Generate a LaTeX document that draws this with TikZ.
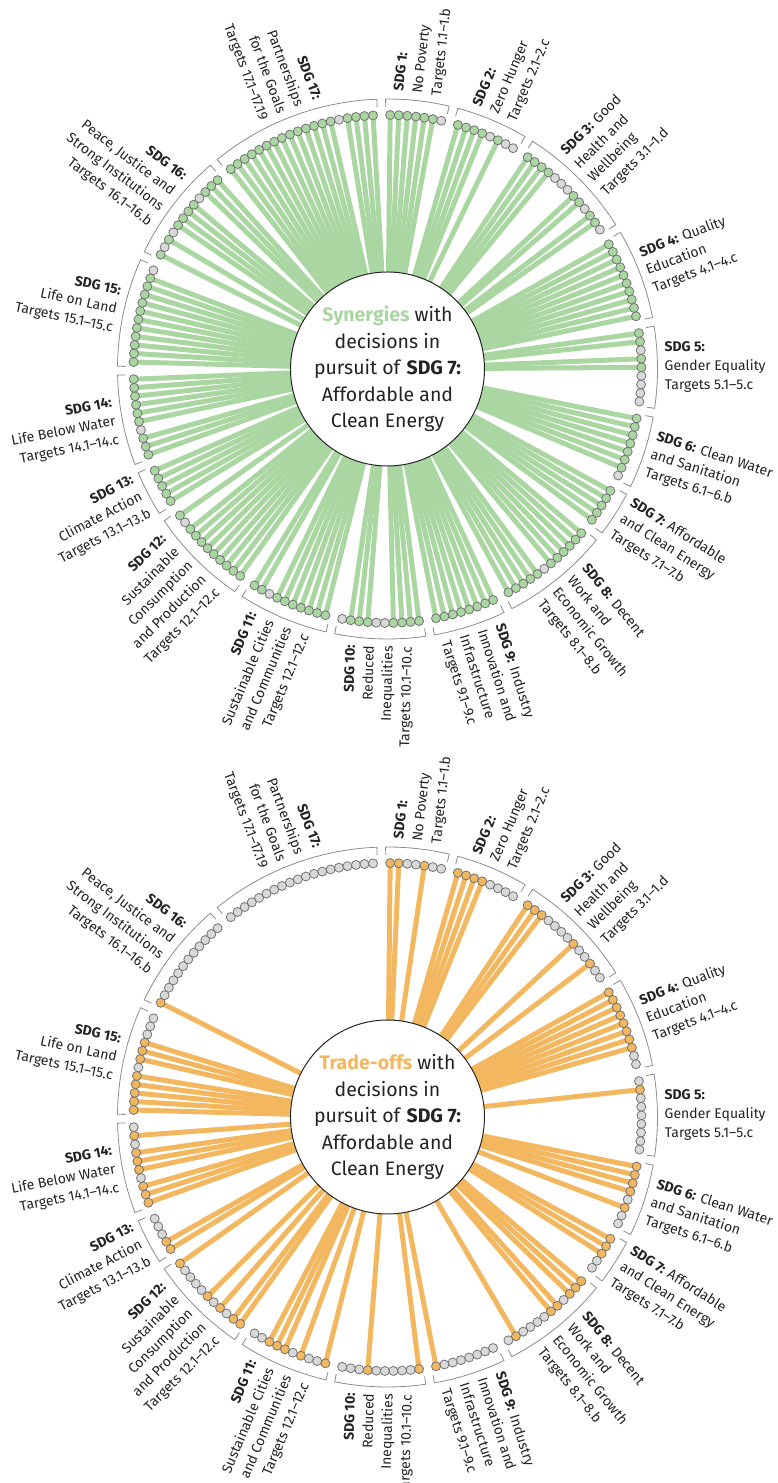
\documentclass[tikz,border=0pt]{standalone}
\usepackage{fontspec}
\setmainfont{Fira Sans}
\usetikzlibrary{backgrounds}

\definecolor{syngreen}{RGB}{170,214,162}
\definecolor{tradeorange}{RGB}{243,183,95}
\definecolor{dotgrey}{RGB}{217,217,217}
\definecolor{brkgrey}{RGB}{140,140,140}
\definecolor{txtgrey}{RGB}{35,35,35}

\newcount\slotno

\tikzset{
  target/.style={circle, draw=black!55, line width=0.8pt, minimum size=9pt, inner sep=0pt, fill=dotgrey},
  hub/.style={circle, draw=black!85, line width=1pt, fill=white, minimum size=194pt, inner sep=0pt,
    align=center, text=txtgrey, font=\fontsize{19.5}{26.5}\selectfont},
  sdglabel/.style={inner sep=1pt, text=txtgrey, font=\fontsize{14}{19}\selectfont},
  bracket/.style={draw=brkgrey, line width=0.8pt},
  spoke/.style={line width=5pt}
}

% one ring of targets, #1 hub, #2 colour, #3 one list of 0/1 per goal
\newcommand\sdgdots[3]{%
  \global\slotno=0
  \foreach \pat in {#3} {
    \global\advance\slotno by 1
    \foreach \v in \pat {
      \global\advance\slotno by 1
      \pgfmathsetmacro\ang{93.27-\the\slotno*1.9355}
      \edef\s{\the\slotno}
      \ifnum\v=1
        \node[target, fill=#2] (#1-\s) at ([shift={(\ang:254)}]#1.center) {};
        \begin{scope}[on background layer]
          \draw[spoke, #2] (#1.center) -- (#1-\s.center);
        \end{scope}
      \else
        \node[target] (#1-\s) at ([shift={(\ang:254)}]#1.center) {};
      \fi
    }
  }
}

% brackets and goal names round hub #1
\newcommand\sdglabels[1]{%
  \global\slotno=0
  \foreach \n/\lab [count=\g] in {
      7/{\textbf{SDG 1:}\\No Poverty\\Targets 1.1–1.b},
      8/{\textbf{SDG 2:}\\Zero Hunger\\Targets 2.1–2.c},
      13/{\textbf{SDG 3:} Good\\Health and\\Wellbeing\\Targets 3.1–1.d},
      10/{\textbf{SDG 4:} Quality\\Education\\Targets 4.1–4.c},
      9/{\textbf{SDG 5:}\\Gender Equality\\Targets 5.1–5.c},
      8/{\textbf{SDG 6:} Clean Water\\and Sanitation\\Targets 6.1–6.b},
      5/{\textbf{SDG 7:} Affordable\\and Clean Energy\\Targets 7.1–7.b},
      12/{\textbf{SDG 8:} Decent\\Work and\\Economic Growth\\Targets 8.1–8.b},
      8/{\textbf{SDG 9:} Industry\\Innovation and\\Infrastructure\\Targets 9.1–9.c},
      10/{\textbf{SDG 10:}\\Reduced\\Inequalities\\Targets 10.1–10.c},
      10/{\textbf{SDG 11:}\\Sustainable Cities\\and Communities\\Targets 12.1–12.c},
      11/{\textbf{SDG 12:}\\Sustainable\\Consumption\\and Production\\Targets 12.1–12.c},
      5/{\textbf{SDG 13:}\\Climate Action\\Targets 13.1–13.b},
      10/{\textbf{SDG 14:}\\Life Below Water\\Targets 14.1–14.c},
      12/{\textbf{SDG 15:}\\Life on Land\\Targets 15.1–15.c},
      12/{\textbf{SDG 16:}\\Peace, Justice and\\Strong Institutions\\Targets 16.1–16.b},
      19/{\textbf{SDG 17:}\\Partnerships\\for the Goals\\Targets 17.1–17.19}} {
    \global\advance\slotno by 1
    \pgfmathsetmacro\aa{93.27-(\the\slotno+1)*1.9355+1}
    \global\advance\slotno by \n
    \pgfmathsetmacro\ab{93.27-\the\slotno*1.9355-1}
    \pgfmathsetmacro\am{(\aa+\ab)/2}
    \draw[bracket] ([shift={(\aa:262)}]#1.center) -- ([shift={(\aa:270)}]#1.center)
      arc[start angle=\aa, end angle=\ab, radius=270pt] -- ([shift={(\ab:262)}]#1.center);
    \ifdim\am pt>-90pt
      \node[sdglabel, anchor=west, align=left, rotate=\am] (#1-sdg\g) at ([shift={(\am:276)}]#1.center) {\lab};
    \else
      \pgfmathsetmacro\rot{\am+180}
      \node[sdglabel, anchor=east, align=right, rotate=\rot] (#1-sdg\g) at ([shift={(\am:276)}]#1.center) {\lab};
    \fi
  }
}

\begin{document}
\begin{tikzpicture}[x=1pt, y=1pt]
  \useasboundingbox (0,0) rectangle (777,1483);

  % synergies
  \node[hub] (syn) at (387.5,1114) {\textcolor{syngreen}{\textbf{Synergies}} with\\decisions in\\pursuit of \textbf{SDG 7:}\\Affordable and\\Clean Energy};
  \sdgdots{syn}{syngreen}{
    {1,1,1,1,1,1,0},
    {1,1,1,1,0,1,0,0},
    {1,1,1,1,0,0,0,1,1,0,1,1,0},
    {1,1,1,1,1,1,1,1,1,1},
    {1,1,0,1,1,0,0,0,0},
    {1,1,1,1,1,1,1,0},
    {1,1,1,1,1},
    {1,1,1,1,1,1,0,1,1,1,1,1},
    {1,1,1,1,1,1,1,1},
    {1,1,1,1,0,0,1,1,1,0},
    {1,1,1,1,1,1,1,0,1,1},
    {1,1,1,1,1,1,1,1,1,0,1},
    {1,1,1,1,1},
    {1,1,1,0,1,1,1,1,1,1},
    {1,1,1,1,1,1,1,1,1,1,1,0},
    {1,0,1,0,1,1,1,1,0,1,1,1},
    {1,1,1,1,1,1,1,1,1,1,1,1,1,1,0,1,1,1,1}}
  \sdglabels{syn}

  % trade-offs
  \node[hub] (trd) at (387.5,366) {\textcolor{tradeorange}{\textbf{Trade-offs}} with\\decisions in\\pursuit of \textbf{SDG 7:}\\Affordable and\\Clean Energy};
  \sdgdots{trd}{tradeorange}{
    {1,1,0,0,1,0,0},
    {1,1,1,1,0,0,0,0},
    {1,1,1,0,0,0,0,1,0,0,1,0,0},
    {1,1,1,1,1,1,1,1,0,0},
    {0,1,0,0,0,0,0,0,0},
    {1,1,1,1,0,1,0,0},
    {1,1,1,0,0},
    {1,1,1,0,1,1,0,0,0,0,1,0},
    {0,0,0,0,0,0,0,1},
    {1,0,0,0,0,0,1,0,0,0},
    {1,0,0,1,0,1,1,1,0,0},
    {1,1,0,1,0,1,0,0,0,0,1},
    {1,1,0,0,0},
    {1,1,1,0,1,1,1,0,1,0},
    {1,1,1,1,1,0,1,1,1,0,0,0},
    {1,0,0,0,0,0,0,0,0,0,0,0},
    {0,0,0,0,0,0,0,0,0,0,0,0,0,0,0,0,0,0,0}}
  \sdglabels{trd}
\end{tikzpicture}
\end{document}
